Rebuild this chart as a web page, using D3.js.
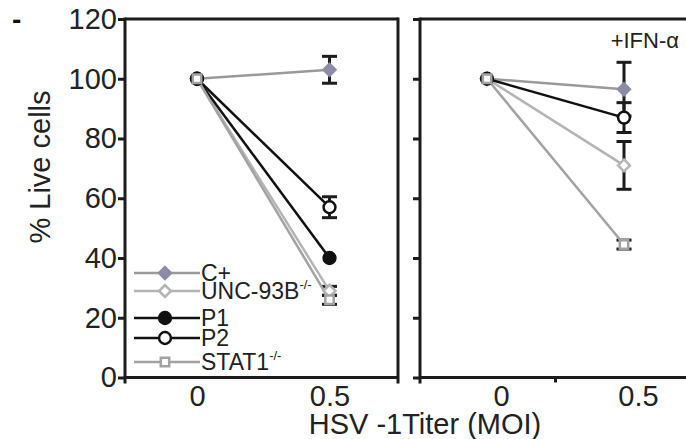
<!DOCTYPE html>
<html>
<head>
<meta charset="utf-8">
<script src="https://cdn.jsdelivr.net/npm/d3@7"></script>
<style>
  html, body { margin: 0; padding: 0; background: #fff; }
  svg { display: block; font-family: "Liberation Sans", Arial, sans-serif; }
</style>
</head>
<body>
<svg id="chart" width="686" height="439"></svg>
<script>
// Virus titer (MOI) on the x axis, % live cells on the y axis
const xValues = [0, 0.5];
const xTickLabels = ["0", "0.5"];
const yTicks = [0, 20, 40, 60, 80, 100, 120];

const seriesNames = ["C+", "UNC-93B", "P1", "P2", "STAT1"];
const seriesSup = ["", "-/-", "", "", "-/-"];

// without IFN-α
const meansNoIFN = [[100, 103], [100, 29], [100, 40], [100, 57], [100, 26]];
const errNoIFN   = [[0, 4.5],   [0, 1.5],  [0, 0],    [0, 3.5],  [0, 1.5]];
// with IFN-α (no P1 curve)
const meansIFN = [[100, 96.5], [100, 71], null, [100, 87], [100, 44.5]];
const errIFN   = [[0, 9],      [0, 8],    null, [0, 5],    [0, 1.5]];

// drawing style for each series
const lineColor   = ["#9a9a9a", "#b4b4b4", "#111", "#111", "#a2a2a2"];
const markerShape = ["diamond", "diamond", "circle", "circle", "square"];
const markerFill  = ["#8c8ca6", "#fff", "#111", "#fff", "#fff"];
const markerStroke= ["#8c8ca6", "#b4b4b4", "#111", "#111", "#a2a2a2"];

const svg = d3.select("#chart");
const ink = "#1c1c1c";

const y = d3.scaleLinear().domain([0, 120]).range([377.5, 19]);

const panels = [
  { left: 125, right: 398, x: d3.scaleLinear().domain([0, 0.5]).range([197, 329.5]),
    means: meansNoIFN, errs: errNoIFN, labels: true, labelShift: 0, midTick: false },
  { left: 420, right: 700, x: d3.scaleLinear().domain([0, 0.5]).range([487, 624]),
    means: meansIFN, errs: errIFN, labels: false, labelShift: 14, midTick: true }
];

function markerPath(shape) {
  if (shape === "diamond") return d3.symbol(d3.symbolDiamond2, 90)();
  if (shape === "circle") return d3.symbol(d3.symbolCircle, 110)();
  return d3.symbol(d3.symbolSquare2, 90)();
}

panels.forEach((p, pi) => {
  const g = svg.append("g");

  // frame: top and right edges
  g.append("line").attr("x1", p.left).attr("x2", p.right).attr("y1", y(120)).attr("y2", y(120))
    .attr("stroke", ink).attr("stroke-width", 3);
  g.append("line").attr("x1", p.right).attr("x2", p.right).attr("y1", y(120) - 1.5).attr("y2", y(0) + 6)
    .attr("stroke", ink).attr("stroke-width", 3);

  // y axis
  const yAxis = d3.axisLeft(y).tickValues(yTicks).tickSize(7).tickPadding(1)
    .tickFormat(p.labels ? d3.format("d") : () => "");
  const ya = g.append("g").attr("transform", `translate(${p.left},0)`).call(yAxis);
  ya.select(".domain").attr("d", `M0,${y(120) - 1.5}V${y(0) + 6}`)
    .attr("stroke", ink).attr("stroke-width", 3);
  ya.selectAll(".tick line").attr("stroke", ink).attr("stroke-width", 3);
  ya.selectAll(".tick text").attr("fill", "#222").attr("font-size", 29)
    .attr("font-family", "Liberation Sans, Arial, sans-serif");

  // x axis
  const xAxis = d3.axisBottom(p.x).tickValues(xValues).tickSize(0).tickPadding(8)
    .tickFormat((d, i) => xTickLabels[i]);
  const xa = g.append("g").attr("transform", `translate(0,${y(0)})`).call(xAxis);
  xa.select(".domain").attr("d", `M${p.left},0H${p.right}`)
    .attr("stroke", ink).attr("stroke-width", 3);
  xa.selectAll(".tick text").attr("fill", "#222").attr("font-size", 29)
    .attr("dx", p.labelShift).attr("dy", "0.72em")
    .attr("font-family", "Liberation Sans, Arial, sans-serif");
  if (p.midTick) {
    xa.append("line").attr("x1", p.x(0.25)).attr("x2", p.x(0.25)).attr("y1", 0).attr("y2", 5)
      .attr("stroke", ink).attr("stroke-width", 3);
  }

  // error bars
  const eg = g.append("g");
  p.means.forEach((m, si) => {
    if (!m) return;
    m.forEach((v, k) => {
      const e = p.errs[si][k];
      if (!e) return;
      const cx = p.x(xValues[k]);
      eg.append("line").attr("x1", cx).attr("x2", cx).attr("y1", y(v - e)).attr("y2", y(v + e))
        .attr("stroke", ink).attr("stroke-width", 3);
      [v - e, v + e].forEach(c => {
        eg.append("line").attr("x1", cx - 7.5).attr("x2", cx + 7.5).attr("y1", y(c)).attr("y2", y(c))
          .attr("stroke", ink).attr("stroke-width", 3);
      });
    });
  });

  // lines
  const line = d3.line().x((d, k) => p.x(xValues[k])).y(d => y(d));
  p.means.forEach((m, si) => {
    if (!m) return;
    g.append("path").attr("d", line(m)).attr("fill", "none")
      .attr("stroke", lineColor[si]).attr("stroke-width", 2.5);
  });

  // markers
  p.means.forEach((m, si) => {
    if (!m) return;
    m.forEach((v, k) => {
      g.append("path").attr("d", markerPath(markerShape[si]))
        .attr("transform", `translate(${p.x(xValues[k])},${y(v)})`)
        .attr("fill", markerFill[si]).attr("stroke", markerStroke[si]).attr("stroke-width", 2.5);
    });
  });
});

// legend
const legendRows = [273, 291, 318, 338, 362];
const lg = svg.append("g");
seriesNames.forEach((name, si) => {
  const ly = legendRows[si];
  lg.append("line").attr("x1", 134).attr("x2", 200).attr("y1", ly).attr("y2", ly)
    .attr("stroke", lineColor[si]).attr("stroke-width", 2.5);
  lg.append("path").attr("d", markerPath(markerShape[si]))
    .attr("transform", `translate(165,${ly})`)
    .attr("fill", markerFill[si]).attr("stroke", markerStroke[si]).attr("stroke-width", 2.5);
  const t = lg.append("text").attr("x", 201).attr("y", ly + 8)
    .attr("font-size", 23).attr("fill", "#222").text(name);
  if (seriesSup[si]) {
    t.append("tspan").attr("font-size", 13).attr("dy", -10).text(seriesSup[si]);
  }
});

// axis titles and panel label
svg.append("text").attr("transform", "translate(50,167) rotate(-90)")
  .attr("text-anchor", "middle").attr("font-size", 29).attr("fill", "#222").text("% Live cells");
svg.append("text").attr("x", 425).attr("y", 434).attr("text-anchor", "middle")
  .attr("font-size", 29).attr("fill", "#222").text("HSV -1Titer (MOI)");
svg.append("text").attr("x", 679).attr("y", 48).attr("text-anchor", "end")
  .attr("font-size", 22).attr("fill", "#222").text("+IFN-α");
svg.append("text").attr("x", 12).attr("y", 29).attr("font-size", 28)
  .attr("font-weight", "bold").attr("fill", "#111").text("-");
</script>
</body>
</html>
